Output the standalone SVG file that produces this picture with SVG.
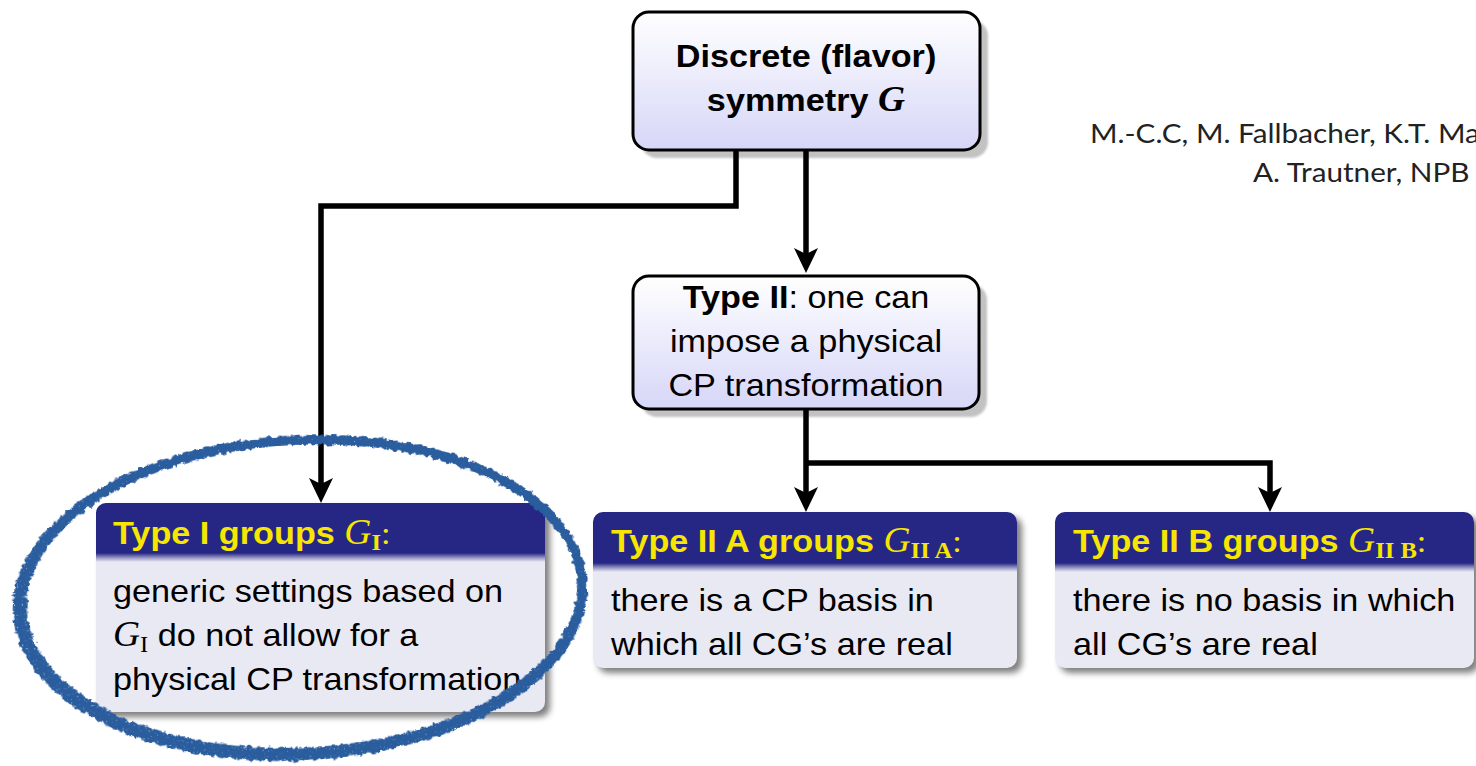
<svg xmlns="http://www.w3.org/2000/svg" width="1476" height="766" viewBox="0 0 1476 766">
<style>
.sans{font-family:"Liberation Sans",Arial,sans-serif;font-size:32px;fill:#000}
.b{font-weight:bold}
.hd{font-family:"Liberation Sans",Arial,sans-serif;font-size:32px;font-weight:bold;fill:#f7e600}
.mi{font-family:"Liberation Serif","Times New Roman",serif;font-style:italic;font-size:35px}
.sub{font-family:"Liberation Serif","Times New Roman",serif;font-style:normal;font-size:23px}
.mc{font-family:"Liberation Serif","Times New Roman",serif;font-style:normal;font-weight:normal}
.cite{font-family:Lato,"Open Sans",sans-serif;font-size:27px;fill:#222}
.conn{fill:none;stroke:#000;stroke-width:5.5;stroke-linejoin:miter;stroke-miterlimit:10}
.topbox{fill:url(#topGrad);stroke:#000;stroke-width:3}
.topshadow{fill:#c2c2c2}
.body{fill:#e9e9f3}
.head{fill:#262685}
.band{fill:url(#band)}
.bshadow{fill:#000;opacity:0.5;filter:url(#blur)}
.loop{fill:none;stroke:#2c5d9e;stroke-width:9;filter:url(#rough)}
</style>
<defs>
<linearGradient id="topGrad" x1="0" y1="0" x2="0" y2="1">
<stop offset="0" stop-color="#ffffff"/>
<stop offset="1" stop-color="#d6d6f8"/>
</linearGradient>
<linearGradient id="band" x1="0" y1="0" x2="0" y2="1">
<stop offset="0" stop-color="#262685"/>
<stop offset="0.5" stop-color="#9090c0"/>
<stop offset="1" stop-color="#e9e9f3"/>
</linearGradient>
<filter id="blur" x="-10%" y="-10%" width="120%" height="130%">
<feGaussianBlur stdDeviation="3"/>
</filter>
<filter id="soft" x="-5%" y="-5%" width="110%" height="110%">
<feGaussianBlur stdDeviation="0.8"/>
</filter>
<filter id="rough" x="-10%" y="-15%" width="120%" height="130%">
<feTurbulence type="fractalNoise" baseFrequency="0.2" numOctaves="3" seed="7" result="n"/>
<feDisplacementMap in="SourceGraphic" in2="n" scale="6" xChannelSelector="R" yChannelSelector="G" result="d"/>
<feTurbulence type="fractalNoise" baseFrequency="0.5" numOctaves="1" seed="2" result="n2"/>
<feColorMatrix in="n2" type="matrix" values="0 0 0 0 0  0 0 0 0 0  0 0 0 0 0  0 0 0 -4 3.6" result="m"/>
<feComposite in="d" in2="m" operator="in"/>
</filter>
<marker id="arr" markerUnits="userSpaceOnUse" orient="auto" overflow="visible" markerWidth="1" markerHeight="1" refX="0" refY="0">
<path d="M13,0 L-12,-12 L-6,0 L-12,12 Z" fill="#000"/>
</marker>
</defs>
<rect width="1476" height="766" fill="#fff"/>

<g id="node-discrete">
<rect class="topshadow" x="641" y="20" width="347" height="138" rx="16" filter="url(#soft)"/>
<rect class="topbox" x="633" y="12" width="347" height="138" rx="16"/>
<text class="sans b" transform="translate(806,67) scale(1.07,1)" text-anchor="middle">Discrete (flavor)</text>
<text class="sans b" transform="translate(806,111) scale(1.07,1)" text-anchor="middle">symmetry <tspan class="mi">G</tspan></text>
</g>

<g id="node-type2">
<rect class="topshadow" x="641" y="284" width="346" height="133" rx="16" filter="url(#soft)"/>
<rect class="topbox" x="633" y="276" width="346" height="133" rx="16"/>
<text class="sans" transform="translate(806,308) scale(1.07,1)" text-anchor="middle"><tspan class="b">Type II</tspan>: one can</text>
<text class="sans" transform="translate(806,352) scale(1.07,1)" text-anchor="middle">impose a physical</text>
<text class="sans" transform="translate(806,396) scale(1.07,1)" text-anchor="middle">CP transformation</text>
</g>

<g id="node-type1">
<rect class="bshadow" x="101" y="508" width="449" height="209" rx="10"/>
<rect class="body" x="96" y="503" width="449" height="209" rx="10"/>
<path class="head" d="M96,553 V513 A10,10 0 0 1 106,503 H535 A10,10 0 0 1 545,513 V553 Z"/>
<rect class="band" x="96" y="553" width="449" height="9"/>
<text class="hd" transform="translate(113,544) scale(1.07,1)">Type I groups <tspan class="mi" font-weight="normal">G</tspan><tspan class="sub" dy="6">I</tspan><tspan class="mc" dy="-6">:</tspan></text>
<text class="sans" transform="translate(113,602) scale(1.07,1)">generic settings based on</text>
<text class="sans" transform="translate(113,646) scale(1.07,1)"><tspan class="mi">G</tspan><tspan class="sub" dy="6">I</tspan><tspan dy="-6"> do not allow for a</tspan></text>
<text class="sans" transform="translate(113,690) scale(1.07,1)">physical CP transformation</text>
</g>

<g id="node-type2a">
<rect class="bshadow" x="598" y="517" width="424" height="156" rx="10"/>
<rect class="body" x="593" y="512" width="424" height="156" rx="10"/>
<path class="head" d="M593,563 V522 A10,10 0 0 1 603,512 H1007 A10,10 0 0 1 1017,522 V563 Z"/>
<rect class="band" x="593" y="563" width="424" height="9"/>
<text class="hd" transform="translate(611,552) scale(1.07,1)">Type II A groups <tspan class="mi" font-weight="normal">G</tspan><tspan class="sub" font-weight="bold" dy="6">II A</tspan><tspan class="mc" dy="-6">:</tspan></text>
<text class="sans" transform="translate(611,611) scale(1.07,1)">there is a CP basis in</text>
<text class="sans" transform="translate(611,655) scale(1.07,1)">which all CG’s are real</text>
</g>

<g id="node-type2b">
<rect class="bshadow" x="1060" y="517" width="419" height="156" rx="10"/>
<rect class="body" x="1055" y="512" width="419" height="156" rx="10"/>
<path class="head" d="M1055,563 V522 A10,10 0 0 1 1065,512 H1464 A10,10 0 0 1 1474,522 V563 Z"/>
<rect class="band" x="1055" y="563" width="419" height="9"/>
<text class="hd" transform="translate(1073,552) scale(1.07,1)">Type II B groups <tspan class="mi" font-weight="normal">G</tspan><tspan class="sub" font-weight="bold" dy="6">II B</tspan><tspan class="mc" dy="-6">:</tspan></text>
<text class="sans" transform="translate(1073,611) scale(1.07,1)">there is no basis in which</text>
<text class="sans" transform="translate(1073,655) scale(1.07,1)">all CG’s are real</text>
</g>

<g id="connectors">
<path class="conn" d="M736,151 V206 H321 V490" marker-end="url(#arr)"/>
<path class="conn" d="M806,151 V260" marker-end="url(#arr)"/>
<path class="conn" d="M806,410 V499" marker-end="url(#arr)"/>
<path class="conn" d="M806,463 H1270 V499" marker-end="url(#arr)"/>
</g>

<g id="highlight-loop" transform="rotate(-3,300,598)">
<ellipse class="loop" cx="300" cy="598" rx="283" ry="158"/>
<ellipse class="loop" cx="302" cy="596" rx="280" ry="156" stroke-width="4"/>
</g>

<g id="citation">
<text class="cite" transform="translate(1090,143) scale(1.1,1)">M.-C.C, M. Fallbacher, K.T. Ma</text>
<text class="cite" transform="translate(1253,182) scale(1.1,1)">A. Trautner, NPB</text>
</g>
</svg>
